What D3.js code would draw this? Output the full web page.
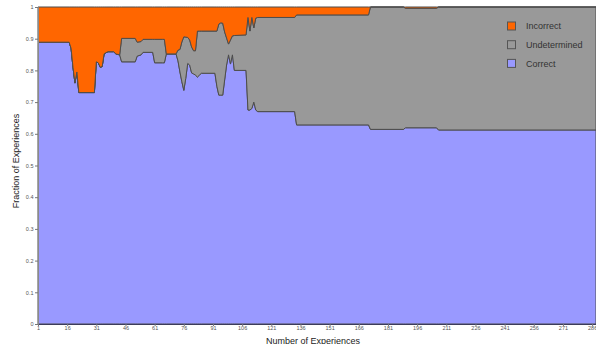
<!DOCTYPE html>
<html>
<head>
<meta charset="utf-8">
<script src="https://cdn.jsdelivr.net/npm/d3@7/dist/d3.min.js"></script>
<style>
  html, body { margin: 0; padding: 0; background: #fff; }
  svg { display: block; }
  .tick text { font-family: "Liberation Sans", Arial, sans-serif; font-size: 5.5px; fill: #555; }
</style>
</head>
<body>
<svg id="chart" width="596" height="344"></svg>
<script>
// Experience index at each breakpoint of the running fractions
const experiences = [1,17,18,19,20,21,22,30,31,32,33,34,35,36,37,40,41,43,44,51,52,54,55,60,61,65,66,67,72,73,74,75,76,77,78,79,80,81,82,83,84,85,92,93,94,95,96,97,98,99,100,101,102,108,109,110,111,112,113,114,133,134,171,172,189,190,206,207,288];

// Fraction of experiences judged correct
const correct = [.889,.889,.870,.810,.760,.795,.730,.730,.827,.824,.810,.812,.852,.856,.859,.859,.852,.849,.827,.827,.845,.849,.857,.857,.824,.824,.824,.852,.852,.830,.795,.764,.737,.775,.822,.817,.792,.789,.785,.779,.785,.791,.791,.750,.722,.722,.722,.770,.817,.849,.820,.849,.800,.800,.675,.675,.680,.700,.675,.670,.670,.628,.628,.614,.614,.619,.619,.612,.612];

// Fraction left undetermined
const undetermined = [0,0,0,0,0,0,0,0,0,0,0,0,0,0,0,0,0,0,.074,.074,.044,.042,.041,.041,.074,.074,.074,0,0,.034,.071,.126,.169,.130,.082,.079,.082,.073,.077,.145,.139,.133,.133,.174,.224,.228,.227,.151,.085,.034,.076,.060,.110,.112,.292,.249,.287,.234,.290,.297,.297,.347,.347,.386,.386,.377,.377,.388,.388];

// Fraction judged incorrect
const incorrect = [.111,.111,.130,.190,.240,.205,.270,.270,.173,.176,.190,.188,.148,.144,.141,.141,.148,.151,.099,.099,.111,.109,.102,.102,.102,.102,.102,.148,.148,.136,.134,.110,.094,.095,.096,.104,.126,.138,.138,.076,.076,.076,.076,.076,.054,.050,.051,.079,.098,.117,.104,.091,.090,.088,.033,.076,.033,.066,.035,.033,.033,.025,.025,0,0,.004,.004,0,0];

const seriesKeys = ["Correct", "Undetermined", "Incorrect"];
const legendOrder = ["Incorrect", "Undetermined", "Correct"];
const xTicks = [1,16,31,46,61,76,91,106,121,136,151,166,181,196,211,226,241,256,271,286];
const yTicks = [0,0.1,0.2,0.3,0.4,0.5,0.6,0.7,0.8,0.9,1];

const colors = { Correct: "#9999ff", Undetermined: "#999999", Incorrect: "#ff6600" };

const W = 596, H = 344;
const margin = { top: 7, right: 0, bottom: 20, left: 38 };
const svg = d3.select("#chart");

const rows = experiences.map((n, i) => ({
  n,
  Correct: correct[i],
  Undetermined: undetermined[i],
  Incorrect: incorrect[i]
}));

const x = d3.scaleLinear().domain([1, 288]).range([margin.left, W - margin.right]);
const y = d3.scaleLinear().domain([0, 1]).range([H - margin.bottom, margin.top]);

const stacked = d3.stack().keys(seriesKeys)(rows);

const area = d3.area()
  .x(d => x(d.data.n))
  .y0(d => y(d[0]))
  .y1(d => y(d[1]));

svg.append("g")
  .selectAll("path")
  .data(stacked)
  .join("path")
  .attr("d", area)
  .attr("fill", d => colors[d.key])
  .attr("stroke", "#4d4d4d")
  .attr("stroke-width", 1)
  .attr("stroke-linejoin", "round");

// Axes
const yAxis = d3.axisLeft(y).tickValues(yTicks).tickFormat(d => String(d)).tickSize(3).tickPadding(1.5);
const gy = svg.append("g").attr("transform", `translate(${margin.left},0)`).call(yAxis);
gy.select(".domain").attr("stroke", "#8a8a8a");
gy.selectAll(".tick line").attr("stroke", "#777");

const xAxis = d3.axisBottom(x).tickValues(xTicks).tickFormat(d => String(d)).tickSize(2).tickPadding(0.5);
const gx = svg.append("g").attr("transform", `translate(0,${H - margin.bottom})`).call(xAxis);
gx.select(".domain").attr("stroke", "#3c3c5a");
gx.selectAll(".tick line").attr("stroke", "#777");

// Axis titles
svg.append("text")
  .attr("x", 313).attr("y", 343.5)
  .attr("text-anchor", "middle")
  .attr("font-family", "Liberation Sans, Arial, sans-serif")
  .attr("font-size", 9)
  .attr("fill", "#222")
  .text("Number of Experiences");

svg.append("text")
  .attr("transform", "translate(19.3,161) rotate(-90)")
  .attr("text-anchor", "middle")
  .attr("font-family", "Liberation Sans, Arial, sans-serif")
  .attr("font-size", 9)
  .attr("fill", "#222")
  .text("Fraction of Experiences");

// Legend
const legend = svg.append("g").attr("transform", "translate(507.5,22)");
const item = legend.selectAll("g")
  .data(legendOrder)
  .join("g")
  .attr("transform", (d, i) => `translate(0,${i * 18.7})`);
item.append("rect")
  .attr("width", 8).attr("height", 8)
  .attr("fill", d => colors[d])
  .attr("stroke", "#555")
  .attr("stroke-width", 1);
item.append("text")
  .attr("x", 18.5).attr("y", 7.4)
  .attr("font-family", "Liberation Sans, Arial, sans-serif")
  .attr("font-size", 9)
  .attr("fill", "#333")
  .text(d => d);
</script>
</body>
</html>
